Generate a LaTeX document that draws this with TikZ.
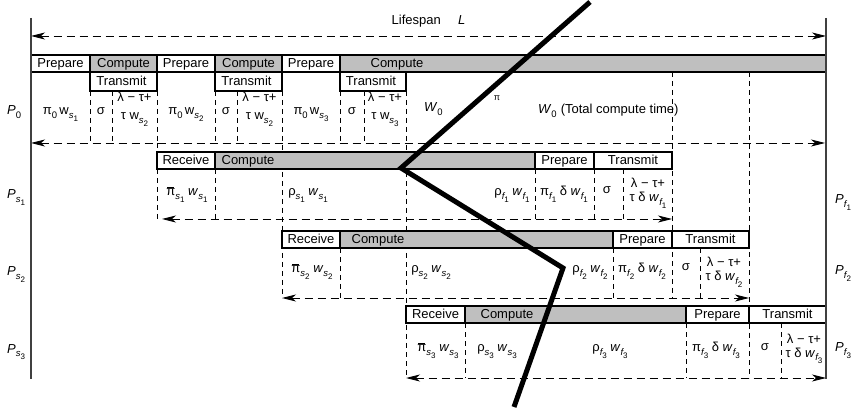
\documentclass[tikz,border=0pt]{standalone}
\usepackage{fontspec}
\setmainfont{Liberation Sans}
\usetikzlibrary{arrows.meta}

% one-level and two-level subscripts set in the text font
\newcommand\lo[1]{\raisebox{-0.5ex}{\fontsize{9.5}{10}\selectfont #1}}
\newcommand\ilo[2]{\raisebox{-0.5ex}{\fontsize{9.5}{10}\selectfont\itshape #1\raisebox{-0.6ex}{\fontsize{8}{9}\selectfont\upshape #2}}}
% pi with a bar over it
\newcommand\pibar{\makebox[0pt][l]{\hspace{0.05em}\raisebox{1.25ex}{\rule{0.5em}{0.7pt}}}π}
\newcommand\wi{\textit{w}}

\begin{document}
\begin{tikzpicture}[x=1pt,y=-1pt,
  t/.style={anchor=base,inner sep=0pt,font=\fontsize{13}{15}\selectfont},
  tw/.style={t,anchor=base west},
  cellbox/.style={draw=black,line width=1.2pt,fill=white},
  compbox/.style={cellbox,fill=black!25},
  vd/.style={line width=0.9pt,dash pattern=on 5pt off 4pt},
  hd/.style={line width=0.9pt,dash pattern=on 8pt off 5pt},
  tips/.style={{Stealth[length=14pt,width=7pt,inset=4pt]}-{Stealth[length=14pt,width=7pt,inset=4pt]}},
  frame/.style={line width=1.4pt,draw=black!75},
  cut/.style={line width=5pt,line join=miter}
]
\useasboundingbox (0,0) rectangle (856,411);

% ---- dashed column separators ----
\foreach \x in {90,112,157,215,237,340,364}
  \draw[vd] (\x,91) -- (\x,143);
\foreach \x in {157,215,535,594,623}
  \draw[vd] (\x,169) -- (\x,219);
\draw[vd] (157,143) -- (157,152);
\draw[vd] (282,91) -- (282,298);
\draw[vd] (406,91) -- (406,378);
\draw[vd] (672,72) -- (672,298);
\draw[vd] (749,72) -- (749,378);
\foreach \x in {340,613,700}
  \draw[vd] (\x,248) -- (\x,298);
\foreach \x in {465,686,781}
  \draw[vd] (\x,323) -- (\x,378);

% ---- lifespan and row spans ----
\coordinate (lifeL) at (31,36);   \coordinate (lifeR) at (826,36);
\coordinate (p0L) at (31,143);    \coordinate (p0R) at (825,143);
\coordinate (s1L) at (162,219);   \coordinate (s1R) at (672,219);
\coordinate (s2L) at (282,298);   \coordinate (s2R) at (749,298);
\coordinate (s3L) at (406,378);   \coordinate (s3R) at (826,378);
\draw[hd,tips] (lifeL) -- (lifeR);
\draw[hd,tips] (p0L) -- (p0R);
\draw[hd,tips] (s1L) -- (s1R);
\draw[hd,tips] (s2L) -- (s2R);
\draw[hd,tips] (s3L) -- (s3R);
\node[t,anchor=base east] (life) at (441,25) {Lifespan};
\node[tw] (lifeLbl) at (458,25) {\textit{L}};

% ---- P0 bar ----
\draw[cellbox]  (31,55) rectangle (90,72);
\draw[compbox]  (90,55) rectangle (157,72);
\draw[cellbox]  (157,55) rectangle (215,72);
\draw[compbox]  (215,55) rectangle (282,72);
\draw[cellbox]  (282,55) rectangle (340,72);
\draw[compbox]  (340,55) rectangle (826,72);
\draw[cellbox]  (90,72) rectangle (157,91);
\draw[cellbox]  (215,72) rectangle (282,91);
\draw[cellbox]  (340,72) rectangle (406,91);
\node[t] (a1) at (60.5,68) {Prepare};
\node[t] (a2) at (123.5,68) {Compute};
\node[t] (a3) at (186,68) {Prepare};
\node[t] (a4) at (248.5,68) {Compute};
\node[t] (a5) at (311,68) {Prepare};
\node[t] (a6) at (397,68) {Compute};
\node[t] (b1) at (121.5,86) {Transmit};
\node[t] (b2) at (246.5,86) {Transmit};
\node[t] (b3) at (371,86) {Transmit};

% ---- P0 quantities ----
\node[t] (c1) at (60.5,115) {π\lo{0}\,w\ilo{s}{1}};
\node[t] (c2) at (101,115) {σ};
\node[t] (c3) at (134.5,102) {λ − τ+};
\node[t] (c4) at (134.5,120) {τ w\ilo{s}{2}};
\node[t] (c5) at (186,115) {π\lo{0}\,w\ilo{s}{2}};
\node[t] (c6) at (226,115) {σ};
\node[t] (c7) at (259.5,102) {λ − τ+};
\node[t] (c8) at (259.5,120) {τ w\ilo{s}{2}};
\node[t] (c9) at (311,115) {π\lo{0}\,w\ilo{s}{3}};
\node[t] (c10) at (352,115) {σ};
\node[t] (c11) at (385,102) {λ − τ+};
\node[t] (c12) at (385,120) {τ w\ilo{s}{3}};
\node[tw] (c13) at (424,112) {\textit{W}\lo{0}};
\node[t,font=\fontsize{9}{10}\selectfont] (c14) at (497,101) {π};
\node[tw] (c15) at (538,114) {\textit{W}\lo{0}\hspace{4pt}(Total compute time)};

% ---- Ps1 bar ----
\draw[cellbox] (157,152) rectangle (215,169);
\draw[compbox] (215,152) rectangle (535,169);
\draw[cellbox] (535,152) rectangle (594,169);
\draw[cellbox] (594,152) rectangle (672,169);
\node[t] (d1) at (186,165) {Receive};
\node[t] (d2) at (248,165) {Compute};
\node[t] (d3) at (564.5,165) {Prepare};
\node[t] (d4) at (633,165) {Transmit};
\node[t] (e1) at (187,196) {\pibar\ilo{s}{1}\ \wi\ilo{s}{1}};
\node[t] (e2) at (308,196) {ρ\ilo{s}{1}\ \wi\ilo{s}{1}};
\node[t] (e3) at (512,196) {ρ\ilo{f}{1}\ \wi\ilo{f}{1}};
\node[t] (e4) at (564,196) {π\ilo{f}{1}\ δ\ \wi\ilo{f}{1}};
\node[t] (e5) at (607,194) {σ};
\node[t] (e6) at (648,188) {λ − τ+};
\node[t] (e7) at (648,202) {τ δ \wi\ilo{f}{1}};

% ---- Ps2 bar ----
\draw[cellbox] (282,231) rectangle (340,248);
\draw[compbox] (340,231) rectangle (613,248);
\draw[cellbox] (613,231) rectangle (672,248);
\draw[cellbox] (672,231) rectangle (749,248);
\node[t] (f1) at (311,244) {Receive};
\node[t] (f2) at (378,244) {Compute};
\node[t] (f3) at (642.5,244) {Prepare};
\node[t] (f4) at (710.5,244) {Transmit};
\node[t] (g1) at (312,273) {\pibar\ilo{s}{2}\ \wi\ilo{s}{2}};
\node[t] (g2) at (431,273) {ρ\ilo{s}{2}\ \wi\ilo{s}{2}};
\node[t] (g3) at (590,273) {ρ\ilo{f}{2}\ \wi\ilo{f}{2}};
\node[t] (g4) at (642,273) {π\ilo{f}{2}\ δ\ \wi\ilo{f}{2}};
\node[t] (g5) at (686,271) {σ};
\node[t] (g6) at (724,267) {λ − τ+};
\node[t] (g7) at (724,281) {τ δ \wi\ilo{f}{2}};

% ---- Ps3 bar ----
\draw[cellbox] (406,306) rectangle (465,323);
\draw[compbox] (465,306) rectangle (686,323);
\draw[cellbox] (686,306) rectangle (749,323);
\draw[cellbox] (749,306) rectangle (826,323);
\node[t] (h1) at (435.5,319) {Receive};
\node[t] (h2) at (507,319) {Compute};
\node[t] (h3) at (717.5,319) {Prepare};
\node[t] (h4) at (787.5,319) {Transmit};
\node[t] (k1) at (438,352) {\pibar\ilo{s}{3}\ \wi\ilo{s}{3}};
\node[t] (k2) at (497,352) {ρ\ilo{s}{3}\ \wi\ilo{s}{3}};
\node[t] (k3) at (610,352) {ρ\ilo{f}{3}\ \wi\ilo{f}{3}};
\node[t] (k4) at (716,352) {π\ilo{f}{3}\ δ\ \wi\ilo{f}{3}};
\node[t] (k5) at (765,350) {σ};
\node[t] (k6) at (804,343) {λ − τ+};
\node[t] (k7) at (804,357) {τ δ \wi\ilo{f}{3}};

% ---- processor frame and labels ----
\coordinate (fl1) at (31,18);  \coordinate (fl2) at (31,379);
\coordinate (fr1) at (826,18); \coordinate (fr2) at (826,379);
\draw[frame] (fl1) -- (fl2);
\draw[frame] (fr1) -- (fr2);
\node[tw] (P0)  at (7,115)  {\textit{P}\lo{0}};
\node[tw] (Ps1) at (7,199)  {\textit{P}\ilo{s}{1}};
\node[tw] (Ps2) at (7,276)  {\textit{P}\ilo{s}{2}};
\node[tw] (Ps3) at (7,353)  {\textit{P}\ilo{s}{3}};
\node[tw] (Pf1) at (835,204) {\textit{P}\ilo{f}{1}};
\node[tw] (Pf2) at (835,275) {\textit{P}\ilo{f}{2}};
\node[tw] (Pf3) at (835,352) {\textit{P}\ilo{f}{3}};

% ---- heavy cut line ----
\coordinate (z0) at (590,2);
\coordinate (z1) at (401,168);
\coordinate (z2) at (563,268);
\coordinate (z3) at (514,407);
\draw[cut] (z0) -- (z1) -- (z2) -- (z3);
\end{tikzpicture}
\end{document}
